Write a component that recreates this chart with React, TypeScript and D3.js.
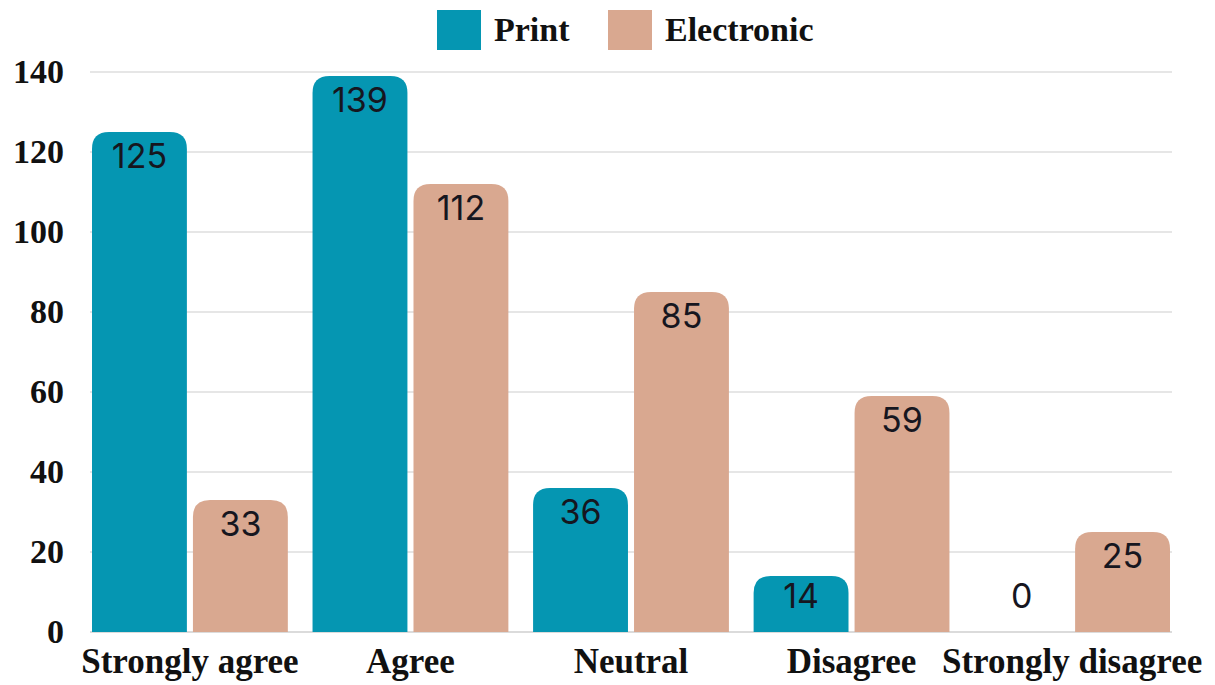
import React from 'react'
import * as d3 from 'd3'

const categories = ['Strongly agree', 'Agree', 'Neutral', 'Disagree', 'Strongly disagree']
const seriesNames = ['Print', 'Electronic']
const printValues = [125, 139, 36, 14, 0]
const electronicValues = [33, 112, 85, 59, 25]
const yTicks = [0, 20, 40, 60, 80, 100, 120, 140]
const colors = ['#0596b2', '#d9a890']

const W = 1215
const H = 685
const serif = '"Liberation Serif", "Times New Roman", serif'
const sans = 'Inter, Lato, sans-serif'

// bar with rounded top corners only
const topRounded = (x: number, y: number, w: number, h: number, r: number) => {
  const rr = Math.min(r, h, w / 2)
  return `M${x},${y + h}V${y + rr}Q${x},${y} ${x + rr},${y}H${x + w - rr}Q${x + w},${y} ${x + w},${y + rr}V${y + h}Z`
}

const App = () => {
  const svgRef = React.useRef<SVGSVGElement>(null)

  React.useEffect(() => {
    const svg = d3.select(svgRef.current)
    svg.selectAll('*').remove()

    const x0 = d3.scaleBand().domain(categories).range([92, 1170]).paddingInner(0.112).paddingOuter(0)
    const x1 = d3.scaleBand().domain(seriesNames).range([0, x0.bandwidth()]).paddingInner(0.06).paddingOuter(0)
    const y = d3.scaleLinear().domain([0, 140]).range([632, 72])

    const rows = categories.map((c, i) => ({ cat: c, values: [printValues[i], electronicValues[i]] }))

    // grid
    svg.append('g')
      .selectAll('line')
      .data(yTicks)
      .join('line')
      .attr('x1', 90)
      .attr('x2', 1172)
      .attr('y1', (d) => y(d))
      .attr('y2', (d) => y(d))
      .attr('stroke', (d) => (d === 0 ? '#cfcfcf' : '#dedede'))
      .attr('stroke-width', 1.5)

    // y labels
    svg.append('g')
      .selectAll('text')
      .data(yTicks)
      .join('text')
      .attr('x', 64)
      .attr('y', (d) => y(d))
      .attr('dy', '0.33em')
      .attr('text-anchor', 'end')
      .style('font', `bold 34px ${serif}`)
      .attr('fill', '#111')
      .text((d) => d)

    const groups = svg.append('g')
      .selectAll('g')
      .data(rows)
      .join('g')
      .attr('transform', (d) => `translate(${x0(d.cat)},0)`)

    const cells = groups.selectAll('g')
      .data((d) => d.values.map((v, j) => ({ key: seriesNames[j], v, j })))
      .join('g')

    cells.filter((d) => d.v > 0)
      .append('path')
      .attr('d', (d) => topRounded(x1(d.key)!, y(d.v), x1.bandwidth(), y(0) - y(d.v), 17))
      .attr('fill', (d) => colors[d.j])

    cells.append('text')
      .attr('x', (d) => x1(d.key)! + x1.bandwidth() / 2)
      .attr('y', (d) => Math.min(y(d.v) + 36, y(0) - 24))
      .attr('text-anchor', 'middle')
      .style('font', `34px ${sans}`)
      .attr('fill', '#16161f')
      .text((d) => d.v)

    // x labels
    svg.append('g')
      .selectAll('text')
      .data(categories)
      .join('text')
      .attr('x', (d) => x0(d)! + x0.bandwidth() / 2)
      .attr('y', 673)
      .attr('text-anchor', 'middle')
      .style('font', `bold 35px ${serif}`)
      .attr('fill', '#111')
      .text((d) => d)

    // legend
    const legendX = [437, 608]
    const legend = svg.append('g')
      .selectAll('g')
      .data(seriesNames)
      .join('g')
      .attr('transform', (_, i) => `translate(${legendX[i]},10)`)
    legend.append('rect')
      .attr('width', 44)
      .attr('height', 40)
      .attr('fill', (_, i) => colors[i])
    legend.append('text')
      .attr('x', 57)
      .attr('y', 31)
      .style('font', `bold 34px ${serif}`)
      .attr('fill', '#111')
      .text((d) => d)
  }, [])

  return (
    <svg
      ref={svgRef}
      width={W}
      height={H}
      style={{ position: 'absolute', left: 0, top: 0, background: '#fff' }}
    />
  )
}

export default App
